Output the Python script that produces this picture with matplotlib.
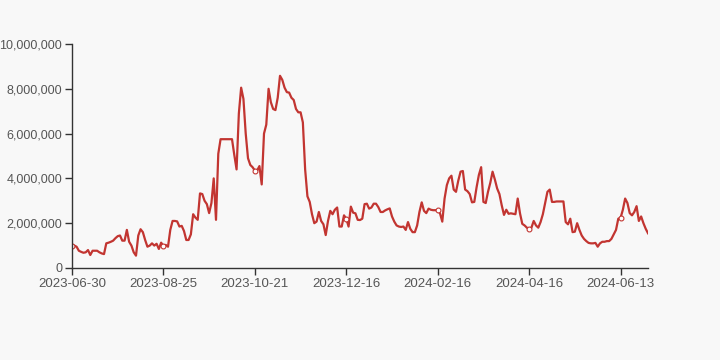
import numpy as np
import matplotlib
matplotlib.use("Agg")
import matplotlib.pyplot as plt
from matplotlib.ticker import FuncFormatter

# daily values (millions)
values = [
    0.98, 1.00, 0.95, 0.77, 0.72, 0.68, 0.70, 0.80, 0.58, 0.77,
    0.77, 0.77, 0.70, 0.65, 0.62, 1.10, 1.13, 1.17, 1.22, 1.33,
    1.42, 1.45, 1.22, 1.22, 1.70, 1.17, 1.00, 0.70, 0.55, 1.45,
    1.73, 1.60, 1.25, 0.95, 1.00, 1.10, 1.00, 1.08, 0.85, 1.13,
    0.98, 1.03, 0.95, 1.70, 2.10, 2.10, 2.08, 1.85, 1.88, 1.65,
    1.25, 1.25, 1.50, 2.40, 2.25, 2.15, 3.33, 3.30, 3.00, 2.85,
    2.45, 2.90, 4.00, 2.15, 5.10, 5.75, 5.75, 5.75, 5.75, 5.75,
    5.75, 5.05, 4.40, 6.90, 8.05, 7.55, 6.00, 4.90, 4.60, 4.50,
    4.35, 4.35, 4.55, 3.73, 6.00, 6.40, 8.00, 7.40, 7.10, 7.05,
    7.60, 8.58, 8.40, 8.05, 7.85, 7.83, 7.60, 7.50, 7.10, 6.95,
    6.95, 6.50, 4.40, 3.20, 2.95, 2.40, 2.00, 2.07, 2.50, 2.10,
    1.95, 1.47, 2.10, 2.55, 2.40, 2.60, 2.70, 1.85, 1.85, 2.35,
    2.20, 1.85, 2.74, 2.47, 2.44, 2.15, 2.14, 2.20, 2.85, 2.87,
    2.65, 2.70, 2.87, 2.87, 2.72, 2.50, 2.50, 2.57, 2.62, 2.66,
    2.30, 2.07, 1.90, 1.85, 1.83, 1.85, 1.70, 2.05, 1.75, 1.60,
    1.60, 1.90, 2.50, 2.93, 2.55, 2.45, 2.65, 2.60, 2.58, 2.58,
    2.58, 2.44, 2.07, 3.10, 3.70, 4.00, 4.12, 3.50, 3.40, 3.90,
    4.30, 4.33, 3.50, 3.43, 3.30, 2.93, 2.95, 3.60, 4.15, 4.50,
    2.95, 2.90, 3.40, 3.80, 4.30, 3.95, 3.55, 3.30, 2.80, 2.37,
    2.60, 2.42, 2.44, 2.42, 2.40, 3.10, 2.44, 1.97, 1.90, 1.80,
    1.75, 1.80, 2.10, 1.90, 1.80, 2.05, 2.40, 2.90, 3.40, 3.50,
    2.95, 2.95, 2.97, 2.97, 2.97, 2.97, 2.05, 1.95, 2.20, 1.60,
    1.62, 2.00, 1.70, 1.45, 1.30, 1.20, 1.12, 1.10, 1.10, 1.12,
    0.95, 1.10, 1.17, 1.17, 1.20, 1.20, 1.30, 1.50, 1.70, 2.20,
    2.24, 2.60, 3.10, 2.90, 2.45, 2.35, 2.50, 2.76, 2.10, 2.30,
    2.00, 1.75, 1.55,
]
tick_labels = ["2023-06-30", "2023-08-25", "2023-10-21", "2023-12-16",
               "2024-02-16", "2024-04-16", "2024-06-13"]
label_step = 40

y = np.array(values) * 1e6
x = np.arange(len(y))

fig = plt.figure(figsize=(7.2, 3.6), dpi=100)
fig.patch.set_facecolor("#f8f8f8")
ax = fig.add_axes([0.1, 0.2556, 0.8, 0.6222])
ax.set_facecolor("#f8f8f8")

ax.plot(x, y, color="#c23531", lw=1.6, marker="o", markevery=label_step,
        markersize=3.5, markerfacecolor="white", markeredgecolor="#c23531",
        markeredgewidth=0.8, solid_joinstyle="round")

ax.set_xlim(0, len(y) - 1)
ax.set_ylim(0, 10e6)
ax.set_xticks(np.arange(0, len(y), label_step))
ax.set_xticklabels(tick_labels)
ax.set_yticks(np.arange(0, 10e6 + 1, 2e6))
ax.yaxis.set_major_formatter(FuncFormatter(lambda v, p: f"{int(v):,}"))

for s in ["top", "right"]:
    ax.spines[s].set_visible(False)
for s in ["left", "bottom"]:
    ax.spines[s].set_color("#333333")
    ax.spines[s].set_linewidth(1)
ax.tick_params(axis="both", colors="#333333", labelcolor="#555555",
               length=5, width=1, pad=2)
ax.tick_params(axis="x", labelsize=9.5)
ax.tick_params(axis="y", labelsize=9)
for t in ax.get_xticklabels() + ax.get_yticklabels():
    t.set_family("Liberation Sans")

fig.savefig("out.png", dpi=100, facecolor=fig.get_facecolor())
